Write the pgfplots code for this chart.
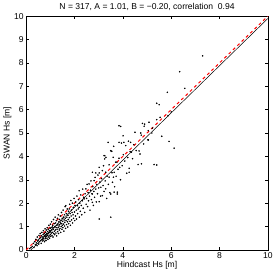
\documentclass[border=0pt]{standalone}
\usepackage{fontspec}
\setmainfont{Liberation Sans}
\usepackage{pgfplots}
\pgfplotsset{compat=1.18}
\usepackage{pgfplotstable}
\pgfplotstableread{
x y
0.15 0.05
0.20 0.10
0.25 0.15
0.30 0.28
0.32 0.10
0.35 0.35
0.38 0.22
0.40 0.45
0.42 0.30
0.45 0.18
0.46 0.55
0.48 0.38
0.50 0.42
0.52 0.25
0.53 0.62
0.55 0.48
0.56 0.35
0.58 0.70
0.60 0.52
0.61 0.40
0.62 0.28
0.63 0.60
0.65 0.75
0.66 0.45
0.67 0.55
0.68 0.38
0.70 0.65
0.71 0.82
0.72 0.50
0.73 0.42
0.74 0.58
0.75 0.70
0.76 0.35
0.77 0.62
0.78 0.90
0.79 0.48
0.80 0.55
0.80 0.75
0.81 0.65
0.82 0.40
0.83 0.85
0.84 0.58
0.85 0.70
0.86 0.50
0.87 0.95
0.88 0.62
0.89 0.78
0.90 0.45
0.90 0.68
0.91 0.88
0.92 0.55
0.93 0.72
0.94 1.05
0.95 0.60
0.96 0.82
0.97 0.50
0.98 0.75
0.99 0.92
1.00 0.65
1.00 1.10
1.01 0.80
1.02 0.58
1.03 0.95
1.04 0.72
1.05 1.20
1.06 0.85
1.07 0.62
1.08 0.98
1.09 0.75
1.10 1.05
1.11 0.55
1.12 0.88
1.13 1.30
1.14 0.70
1.15 0.95
1.16 1.12
1.17 0.80
1.18 0.65
1.19 1.00
1.20 1.40
1.21 0.85
1.22 1.15
1.23 0.72
1.24 0.95
1.25 1.25
1.26 0.60
1.27 1.05
1.28 0.88
1.29 1.35
1.30 0.78
1.31 1.10
1.32 0.95
1.33 1.50
1.34 0.70
1.35 1.20
1.36 1.02
1.37 0.85
1.38 1.30
1.39 1.08
1.40 0.92
1.41 1.45
1.42 1.15
1.43 0.75
1.44 1.25
1.45 1.00
1.46 1.60
1.47 1.12
1.48 0.88
1.49 1.35
1.50 1.05
1.51 1.22
1.52 0.95
1.53 1.70
1.54 1.40
1.55 1.10
1.56 0.80
1.57 1.28
1.58 1.50
1.59 1.02
1.60 1.18
1.61 1.85
1.62 1.35
1.63 0.92
1.64 1.89
1.65 1.25
1.66 1.55
1.67 1.08
1.68 1.40
1.70 1.75
1.71 1.20
1.72 0.98
1.73 1.48
1.74 1.30
1.75 1.65
1.76 1.12
1.78 1.75
1.79 1.38
1.80 1.95
1.81 1.22
1.82 1.55
1.83 1.05
1.85 2.11
1.86 1.45
1.87 1.70
1.88 1.28
1.90 1.60
1.91 2.00
1.92 1.15
1.94 1.50
1.95 1.82
1.96 1.35
1.98 2.20
2.00 1.62
2.01 1.25
2.02 1.90
2.04 1.45
2.05 2.05
2.07 1.70
2.08 1.32
2.10 2.30
2.12 1.89
2.13 1.55
2.15 1.75
2.17 2.15
2.19 2.53
2.19 1.82
2.20 1.40
2.22 2.00
2.24 1.65
2.26 2.35
2.28 1.90
2.30 1.50
2.32 2.10
2.34 2.60
2.36 1.78
2.38 2.25
2.40 2.18
2.42 1.60
2.44 2.40
2.47 2.61
2.48 1.95
2.50 2.20
2.52 2.80
2.54 1.85
2.56 2.45
2.58 2.10
2.60 2.82
2.62 2.30
2.64 1.70
2.66 2.55
2.68 2.95
2.70 2.15
2.72 2.40
2.74 3.32
2.74 2.39
2.74 2.03
2.76 2.70
2.78 1.90
2.80 2.50
2.81 2.96
2.83 2.25
2.85 3.10
2.88 3.29
2.88 2.60
2.90 2.05
2.92 2.80
2.95 2.40
2.97 3.20
3.00 2.65
3.02 3.53
3.02 3.29
3.02 2.06
3.02 1.32
3.05 2.90
3.08 2.30
3.09 2.68
3.12 3.05
3.15 3.39
3.15 2.32
3.18 2.75
3.20 3.60
3.22 4.03
3.22 2.50
3.25 3.89
3.25 4.03
3.27 2.95
3.29 3.32
3.29 2.61
3.30 3.96
3.33 2.20
3.35 3.15
3.39 4.60
3.40 2.80
3.43 3.64
3.43 3.11
3.46 2.45
3.50 4.24
3.50 2.39
3.50 1.40
3.54 4.22
3.55 3.30
3.57 2.89
3.60 3.96
3.61 3.11
3.62 4.43
3.64 3.32
3.64 2.47
3.66 2.70
3.70 3.75
3.72 3.15
3.75 3.75
3.77 2.47
3.77 2.39
3.80 3.45
3.84 4.60
3.84 3.92
3.84 5.31
3.87 3.53
3.90 3.00
3.91 5.28
3.94 4.57
3.97 3.60
4.01 4.88
4.02 4.07
4.04 4.60
4.08 3.80
4.12 4.46
4.16 3.28
4.20 3.95
4.23 4.65
4.26 3.49
4.26 3.32
4.30 4.20
4.32 4.60
4.35 4.18
4.40 3.90
4.45 4.50
4.50 5.03
4.55 4.25
4.63 3.65
4.67 4.23
4.71 4.10
4.74 5.00
4.76 4.91
4.77 3.68
4.81 5.41
4.86 4.53
4.88 5.29
4.90 5.38
5.04 4.71
5.05 5.10
5.05 4.70
5.08 5.46
5.20 5.00
5.22 5.21
5.29 3.65
5.40 6.27
5.40 5.57
5.40 3.63
5.50 6.21
5.54 5.67
5.61 4.86
5.84 6.74
5.87 5.74
5.91 4.64
6.00 5.90
6.12 4.35
6.35 7.62
6.56 6.91
7.30 8.30
}\scatterdata
\pgfplotstableread{
x y
0 0
10 10
}\oneone
\pgfplotstableread{
x y
0.198 0
10 9.9
}\fitline
\begin{document}
\begin{tikzpicture}
\begin{axis}[
  width=242bp, height=234bp, scale only axis,
  xmin=0, xmax=10, ymin=0, ymax=10,
  xtick={0,2,...,10}, ytick={0,1,...,10},
  tick align=inside, major tick length=3bp,
  tick style={black, line width=0.4pt},
  axis line style={black, line width=0.5pt},
  font=\fontsize{8.6}{10}\selectfont,
  /pgf/number format/assume math mode=true,
  title={N = 317, A = 1.01, B = −0.20, correlation\ \ 0.94},
  title style={yshift=-4bp},
  xlabel={Hindcast Hs [m]}, ylabel={SWAN Hs [m]},
  xlabel style={yshift=4bp}, ylabel style={yshift=-4bp},
  xticklabel style={yshift=1bp}, yticklabel style={xshift=1bp},
  clip=true,
]
\addplot[only marks, mark=*, mark size=0.55pt, black] table[x=x,y=y] {\scatterdata};
\addplot[black, line width=0.5pt] table[x=x,y=y] {\fitline};
\addplot[red, line width=1pt, dash pattern=on 3bp off 3bp] table[x=x,y=y] {\oneone};
\end{axis}
\end{tikzpicture}
\end{document}
